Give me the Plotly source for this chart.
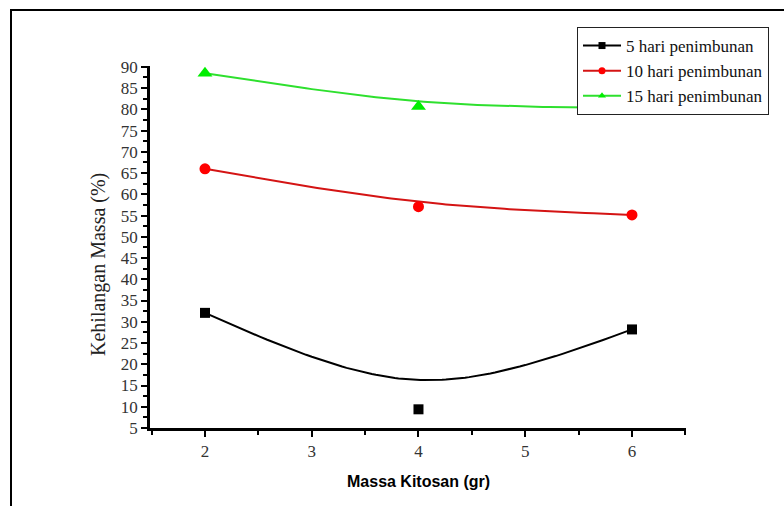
import numpy as np
import plotly.graph_objects as go

# ---- data ----
massa_kitosan = [2, 4, 6]
hari5 = [32.1, 9.4, 28.2]
hari10 = [66.0, 57.1, 55.15]
hari15 = [88.5, 80.65, 80.3]
series_names = ["5 hari penimbunan", "10 hari penimbunan", "15 hari penimbunan"]
x_tick_vals = [2, 3, 4, 5, 6]
y_tick_vals = list(range(5, 95, 5))

W, H = 784, 506
ML, MR, MT, MB = 150, 98, 66, 78


def smooth(xs, ys, w=2.0, n=80):
    """Rational quadratic Bezier through end points, middle point as weighted control."""
    t = np.linspace(0, 1, n)
    b0 = (1 - t) ** 2
    b1 = 2 * t * (1 - t) * w
    b2 = t ** 2
    d = b0 + b1 + b2
    cx = (b0 * xs[0] + b1 * xs[1] + b2 * xs[2]) / d
    cy = (b0 * ys[0] + b1 * ys[1] + b2 * ys[2]) / d
    return cx, cy


styles = [
    dict(line="#000000", marker="#000000", symbol="square", size=10),
    dict(line="#d41414", marker="#ff0000", symbol="circle", size=11),
    dict(line="#2ee02e", marker="#00ee00", symbol="triangle-up", size=13),
]

fig = go.Figure()
for ys, name, st in zip([hari5, hari10, hari15], series_names, styles):
    cx, cy = smooth(massa_kitosan, ys)
    fig.add_trace(go.Scatter(x=cx, y=cy, mode="lines", line=dict(color=st["line"], width=2),
                             showlegend=False, hoverinfo="skip"))
    fig.add_trace(go.Scatter(x=massa_kitosan, y=ys, mode="markers",
                             marker=dict(color=st["marker"], symbol=st["symbol"], size=st["size"]),
                             showlegend=False))
    fig.add_trace(go.Scatter(x=[None], y=[None], mode="lines+markers", name=name,
                             line=dict(color=st["line"], width=2),
                             marker=dict(color=st["marker"], symbol=st["symbol"], size=7)))

plot_w = W - ML - MR
plot_h = H - MT - MB


def px_x(p):
    return (p - ML) / plot_w


def px_y(p):
    return (H - MB - p) / plot_h


serif = "Liberation Serif"

fig.update_layout(
    width=W, height=H,
    margin=dict(l=ML, r=MR, t=MT, b=MB, pad=0),
    paper_bgcolor="white", plot_bgcolor="white",
    font=dict(family=serif, size=17, color="#222"),
    legend=dict(x=px_x(577), y=px_y(27), xanchor="left", yanchor="top",
                bgcolor="white", bordercolor="#222", borderwidth=1,
                font=dict(family=serif, size=17, color="#111"),
                tracegroupgap=0, itemwidth=38),
    xaxis=dict(range=[1.485, 6.506], tickvals=x_tick_vals, showgrid=False, zeroline=False,
               showline=True, linecolor="black", linewidth=2.5,
               ticks="outside", ticklen=6, tickwidth=2, tickcolor="black",
               minor=dict(dtick=0.5, ticks="outside", ticklen=4, tickwidth=2, tickcolor="black"),
               tickfont=dict(family=serif, size=17, color="#333")),
    yaxis=dict(range=[5, 90.2], tickvals=y_tick_vals, showgrid=False, zeroline=False,
               showline=True, linecolor="black", linewidth=2.5,
               ticks="outside", ticklen=6, tickwidth=2, tickcolor="black",
               minor=dict(dtick=2.5, ticks="outside", ticklen=4, tickwidth=2, tickcolor="black"),
               tickfont=dict(family=serif, size=17, color="#333")),
    annotations=[
        dict(text="Kehilangan Massa (%)", xref="paper", yref="paper",
             x=px_x(98), y=px_y(265), textangle=-90, showarrow=False,
             xanchor="center", yanchor="middle",
             font=dict(family=serif, size=20, color="#222")),
        dict(text="<b>Massa Kitosan (gr)</b>", xref="paper", yref="paper",
             x=px_x(418), y=px_y(481), showarrow=False,
             xanchor="center", yanchor="middle",
             font=dict(family="Liberation Sans", size=16, color="#000")),
    ],
    shapes=[
        dict(type="rect", xref="paper", yref="paper",
             x0=px_x(11), y0=px_y(560), x1=px_x(840), y1=px_y(10),
             line=dict(color="black", width=2), layer="below"),
    ],
)

fig.write_html("out.html", config={"displayModeBar": False},
               post_script="document.body.style.margin='0';document.body.style.overflow='hidden';")
